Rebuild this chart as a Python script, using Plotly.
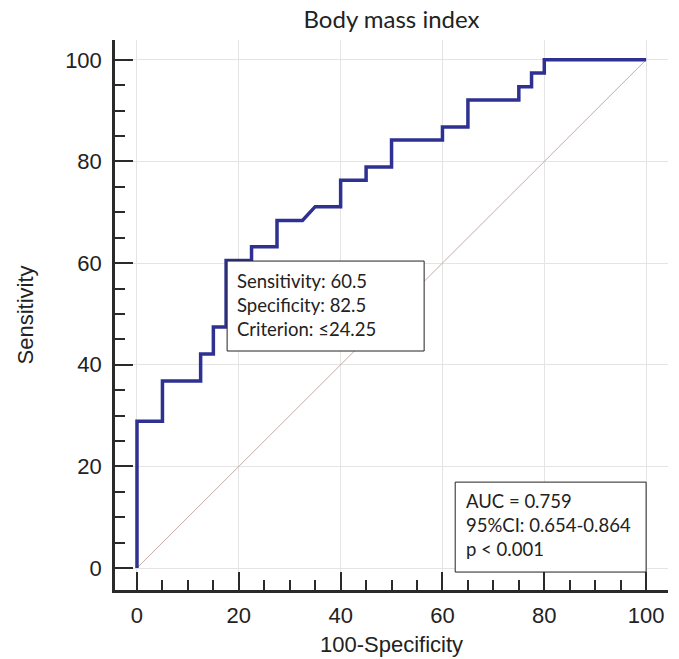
import plotly.graph_objects as go

# ROC curve vertices (100-Specificity, Sensitivity)
fpr = [0, 0, 5, 5, 12.5, 12.5, 15, 15, 17.5, 17.5, 22.5, 22.5, 27.5, 27.5, 32.5, 35,
       40, 40, 45, 45, 50, 50, 60, 60, 65, 65, 75, 75, 77.5, 77.5, 80, 80, 100]
tpr = [0, 28.9, 28.9, 36.8, 36.8, 42.1, 42.1, 47.4, 47.4, 60.5, 60.5, 63.2, 63.2, 68.4, 68.4, 71.1,
       71.1, 76.3, 76.3, 78.9, 78.9, 84.2, 84.2, 86.8, 86.8, 92.1, 92.1, 94.7, 94.7, 97.4, 97.4, 100, 100]
diag_x = [0, 100]
diag_y = [0, 100]
tick_vals = [0, 20, 40, 60, 80, 100]
tick_text = ["0", "20", "40", "60", "80", "100"]

title_text = "Body mass index"
x_title = "100-Specificity"
y_title = "Sensitivity"
box1_lines = ["Sensitivity: 60.5", "Specificity: 82.5", "Criterion: ≤24.25"]
box2_lines = ["AUC = 0.759", "95%CI: 0.654-0.864", "p < 0.001"]

AX = "#2a2a2a"
fig = go.Figure()
fig.add_trace(go.Scatter(x=diag_x, y=diag_y, mode="lines",
                         line=dict(color="#caa9a9", width=1), hoverinfo="skip"))
fig.add_trace(go.Scatter(x=fpr, y=tpr, mode="lines",
                         line=dict(color="#2e3192", width=3.5)))

# boxes
fig.add_shape(type="rect", x0=17.7, x1=56.4, y0=42.7, y1=60.4, xref="x", yref="y",
              line=dict(color="#222", width=1), fillcolor="white", layer="above")
fig.add_shape(type="rect", x0=62.5, x1=100.0, y0=-0.8, y1=16.9, xref="x", yref="y",
              line=dict(color="#222", width=1), fillcolor="white", layer="above")
fig.add_annotation(x=19.2, y=51.8, xref="x", yref="y", text="<br>".join(box1_lines),
                   showarrow=False, xanchor="left", yanchor="middle", align="left",
                   font=dict(family="Lato", size=18.5, color="#222"))
fig.add_annotation(x=64.2, y=8.4, xref="x", yref="y", text="<br>".join(box2_lines),
                   showarrow=False, xanchor="left", yanchor="middle", align="left",
                   font=dict(family="Lato", size=18.5, color="#222"))

axis_common = dict(
    showline=True, linewidth=2.5, linecolor=AX, mirror=False,
    ticks="inside", ticklen=18, tickwidth=2, tickcolor=AX,
    tickvals=tick_vals, ticktext=tick_text,
    showgrid=True, gridcolor="#e4e4e4", gridwidth=1, zeroline=False,
    automargin=False,
    tickfont=dict(family="Liberation Sans", size=22, color="#222"),
    minor=dict(dtick=5, tick0=0, ticks="inside", ticklen=10, tickwidth=2,
               tickcolor=AX, showgrid=False),
)
fig.update_xaxes(range=[-4.32, 104.3], ticklabelstandoff=4,
                 title=dict(text=x_title, standoff=10,
                            font=dict(family="Liberation Sans", size=22, color="#222")),
                 **axis_common)
fig.update_yaxes(range=[-4.33, 103.9], ticklabelstandoff=6,
                 title=dict(text=y_title, standoff=26,
                            font=dict(family="Liberation Sans", size=22, color="#222")),
                 **axis_common)

fig.update_layout(
    width=679, height=659,
    margin=dict(l=115, r=11, t=40, b=69, autoexpand=False),
    plot_bgcolor="white", paper_bgcolor="white",
    showlegend=False,
    title=dict(text=title_text, x=0.5, xref="paper", xanchor="center",
               y=1 - 20 / 659, yanchor="middle",
               font=dict(family="Lato", size=24, color="#222")),
)
fig.write_html(
    "out.html",
    config={"displayModeBar": False},
    post_script="document.body.style.margin='0';document.body.style.overflow='hidden';",
)
